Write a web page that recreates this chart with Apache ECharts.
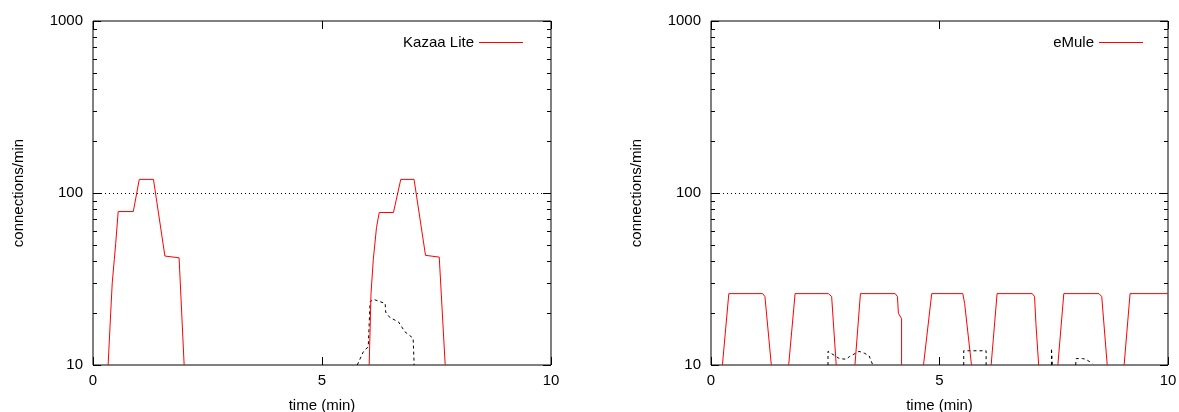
<!DOCTYPE html>
<html>
<head>
<meta charset="utf-8">
<script src="https://cdn.jsdelivr.net/npm/echarts@6/dist/echarts.min.js"></script>
<style>
  html, body { margin: 0; padding: 0; background: #fff; }
  #chart { width: 1179px; height: 412px; }
</style>
</head>
<body>
<div id="chart"></div>
<script>
// Kazaa Lite, red line (null = below 10, gap)
const kazaaTime = [0.33, 0.386, 0.42, 0.465, 0.496, 0.55, 0.88, 1.01, 1.32, 1.57, 1.88, 1.99, 4.0,
  6.03, 6.07, 6.12, 6.19, 6.25, 6.56, 6.72, 7.01, 7.26, 7.56, 7.69];
const kazaaValue = [10, 20, 30, 41, 51, 78, 78, 120, 120, 43, 42, 10, null,
  10, 26, 41, 63, 77, 77, 120, 120, 43.4, 42.4, 10];
// Kazaa Lite, black dashed line
const kazaaDashTime = [5.77, 5.9, 6.01, 6.05, 6.12, 6.38, 6.39, 6.48, 6.67, 6.81, 6.99, 7.01, 7.01];
const kazaaDashValue = [10, 11.9, 12.8, 23.3, 24.1, 22.8, 20.3, 18.9, 17.8, 15.6, 14.3, 10.4, 10];

// eMule, red line
const emuleTime = [0.25, 0.39, 1.13, 1.18, 1.32, 1.5,
  1.70, 1.84, 2.57, 2.64, 2.74, 2.9,
  3.15, 3.27, 4.03, 4.08, 4.10, 4.17, 4.17, 4.4,
  4.65, 4.83, 5.51, 5.55, 5.70, 5.9,
  6.13, 6.26, 7.03, 7.08, 7.11, 7.17, 7.4,
  7.59, 7.72, 8.49, 8.55, 8.67, 8.8,
  9.04, 9.17, 10];
const emuleValue = [10, 26, 26, 25, 10, null,
  10, 26, 26, 25, 10, null,
  10, 26, 26, 25, 20, 18.6, 10, null,
  10, 26, 26, 22.8, 10, null,
  10, 26, 26, 25, 17.4, 10, null,
  10, 26, 26, 25, 10, null,
  10, 26, 26];
// eMule, black dashed line
const emuleDashTime = [2.56, 2.56, 2.81, 2.96, 3.03, 3.24, 3.36, 3.46, 3.54, 4.5,
  5.53, 5.53, 6.02, 6.02, 7.0,
  7.45, 7.45, 7.47, 7.7,
  7.98, 7.99, 8.13, 8.2, 8.35];
const emuleDashValue = [10, 12, 10.9, 10.8, 11.2, 12, 11.7, 11.3, 10, null,
  10, 12.1, 12.1, 10, null,
  10, 12.5, 10, null,
  10, 10.9, 10.9, 10.8, 10.2];

// ticks
const xTicks = [0, 5, 10];
const yMajorTicks = [10, 100, 1000];
const yMinorTicks = [20, 30, 40, 50, 60, 70, 80, 90, 200, 300, 400, 500, 600, 700, 800, 900];
const refLine = 100;

const FONT = '"Liberation Sans", Arial, sans-serif';

const toPairs = (t, v) => t.map((x, i) => [x, v[i] == null ? null : v[i]]);

// axes for one grid: bottom + top mirror, left major/minor + right mirror
function makeAxes(g) {
  const xAxes = [
    {
      gridIndex: g, type: 'value', min: 0, max: 10, interval: 5, position: 'bottom',
      axisLine: { show: false },
      axisTick: { show: true, inside: true, length: 8, lineStyle: { color: '#000' }, customValues: xTicks },
      axisLabel: { show: true, margin: 8, color: '#000', fontSize: 15, fontFamily: FONT, customValues: xTicks },
      splitLine: { show: false },
      name: 'time (min)', nameLocation: 'middle', nameGap: 33,
      nameTextStyle: { color: '#000', fontSize: 15, fontFamily: FONT }
    },
    {
      gridIndex: g, type: 'value', min: 0, max: 10, interval: 5, position: 'top',
      axisLine: { show: false },
      axisTick: { show: true, inside: true, length: 8, lineStyle: { color: '#000' }, customValues: xTicks },
      axisLabel: { show: false }, splitLine: { show: false }
    }
  ];
  const tickAxis = (pos, len, vals, labels) => ({
    gridIndex: g, type: 'log', logBase: 10, min: 10, max: 1000, position: pos,
    axisLine: { show: false },
    axisTick: { show: true, inside: true, length: len, lineStyle: { color: '#000' }, customValues: vals },
    axisLabel: labels
      ? { show: true, margin: 10, color: '#000', fontSize: 15, fontFamily: FONT, customValues: yMajorTicks,
          formatter: (v) => String(v) }
      : { show: false },
    splitLine: { show: false }
  });
  const yMain = tickAxis('left', 8, yMajorTicks, true);
  yMain.name = 'connections/min';
  yMain.nameLocation = 'middle';
  yMain.nameGap = 67;
  yMain.nameTextStyle = { color: '#000', fontSize: 15, fontFamily: FONT };
  const yAxes = [
    yMain,
    tickAxis('left', 4, yMinorTicks, false),
    tickAxis('right', 8, yMajorTicks, false),
    tickAxis('right', 4, yMinorTicks, false)
  ];
  return { xAxes, yAxes };
}

const a0 = makeAxes(0);
const a1 = makeAxes(1);

// dotted line at 100
const refMark = {
  silent: true,
  symbol: ['none', 'none'],
  label: { show: false },
  lineStyle: { color: '#000', width: 1, type: [1, 3] },
  data: [{ yAxis: refLine }]
};

const redLine = { color: '#ff0000', width: 1 };
const dashLine = { color: '#000', width: 1, type: [3, 3] };

const legendBase = {
  top: 30, align: 'right', icon: 'rect', itemWidth: 44, itemHeight: 1,
  textStyle: { color: '#000', fontSize: 15, fontFamily: FONT }
};

const option = {
  animation: false,
  backgroundColor: '#fff',
  grid: [
    { left: 93, right: 628, top: 21, bottom: 47, show: true, borderColor: '#000', borderWidth: 1,
      backgroundColor: 'transparent', outerBoundsMode: 'none', containLabel: false },
    { left: 711, right: 11, top: 21, bottom: 47, show: true, borderColor: '#000', borderWidth: 1,
      backgroundColor: 'transparent', outerBoundsMode: 'none', containLabel: false }
  ],
  legend: [
    Object.assign({ data: ['Kazaa Lite'], right: 651 }, legendBase),
    Object.assign({ data: ['eMule'], right: 31 }, legendBase)
  ],
  xAxis: [...a0.xAxes, ...a1.xAxes],
  yAxis: [...a0.yAxes, ...a1.yAxes],
  series: [
    {
      name: 'Kazaa Lite', type: 'line', xAxisIndex: 0, yAxisIndex: 0,
      data: toPairs(kazaaTime, kazaaValue), symbol: 'none', color: '#ff0000',
      lineStyle: redLine, connectNulls: false, clip: true, markLine: refMark, z: 3
    },
    {
      name: 'kazaa-other', type: 'line', xAxisIndex: 0, yAxisIndex: 0,
      data: toPairs(kazaaDashTime, kazaaDashValue), symbol: 'none', color: '#000',
      lineStyle: dashLine, clip: true, z: 2
    },
    {
      name: 'eMule', type: 'line', xAxisIndex: 2, yAxisIndex: 4,
      data: toPairs(emuleTime, emuleValue), symbol: 'none', color: '#ff0000',
      lineStyle: redLine, connectNulls: false, clip: true, markLine: refMark, z: 3
    },
    {
      name: 'emule-other', type: 'line', xAxisIndex: 2, yAxisIndex: 4,
      data: toPairs(emuleDashTime, emuleDashValue), symbol: 'none', color: '#000',
      lineStyle: dashLine, connectNulls: false, clip: true, z: 2
    }
  ]
};

const chart = echarts.init(document.getElementById('chart'), null, { renderer: 'canvas' });
chart.setOption(option);
</script>
</body>
</html>
